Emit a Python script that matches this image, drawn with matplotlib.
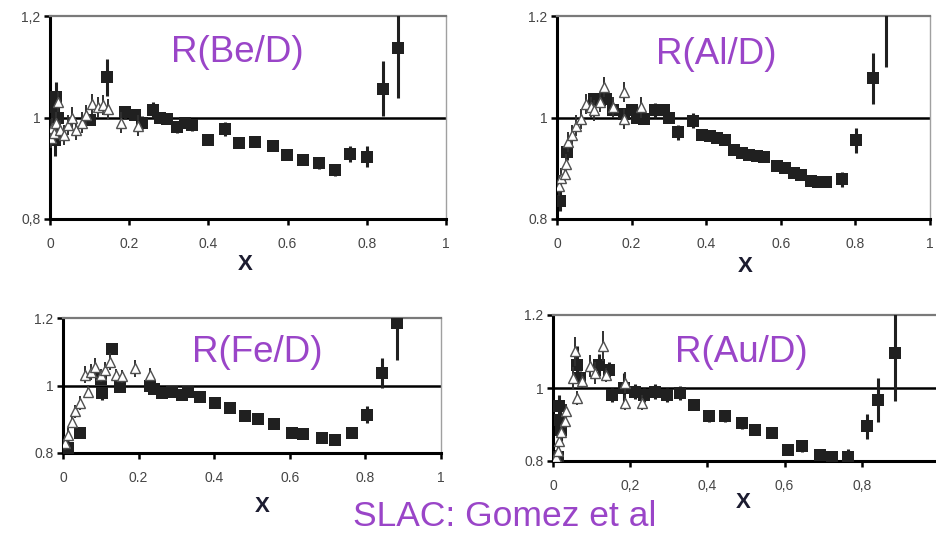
import matplotlib
matplotlib.use("Agg")
import matplotlib.pyplot as plt
import numpy as np

plt.rcParams['font.family'] = ['Liberation Sans', 'DejaVu Sans']

# ---------------- data ----------------
be_sq_x = [0.004, 0.008, 0.012, 0.016, 0.02, 0.10, 0.143, 0.19, 0.215, 0.232, 0.26, 0.278, 0.295, 0.32, 0.34,
           0.358, 0.40, 0.442, 0.477, 0.518, 0.562, 0.598, 0.64, 0.68, 0.72, 0.758, 0.80, 0.842, 0.88]
be_sq_y = [1.02, 0.985, 0.955, 1.04, 1.0, 0.995, 1.079, 1.01, 1.005, 0.99, 1.015, 1.0, 0.998, 0.982, 0.99,
           0.986, 0.955, 0.978, 0.95, 0.952, 0.944, 0.927, 0.916, 0.911, 0.896, 0.928, 0.923, 1.057, 1.136]
be_sq_err = [0.03, 0.03, 0.03, 0.03, 0.02, 0.01, 0.036, 0.012, 0.01, 0.012, 0.015, 0.01, 0.01, 0.012, 0.01,
             0.012, 0.008, 0.014, 0.01, 0.01, 0.01, 0.01, 0.01, 0.012, 0.012, 0.016, 0.02, 0.055, 0.098]
be_tri_x = [0.003, 0.006, 0.01, 0.015, 0.02, 0.025, 0.035, 0.045, 0.055, 0.065, 0.08, 0.09, 0.105, 0.12,
            0.135, 0.147, 0.18, 0.223]
be_tri_y = [0.96, 0.98, 0.97, 0.99, 1.03, 0.975, 0.965, 0.985, 1.0, 0.975, 0.99, 1.005, 1.027, 1.02,
            1.025, 1.017, 0.99, 0.984]
be_tri_err = [0.02, 0.02, 0.02, 0.02, 0.02, 0.02, 0.02, 0.02, 0.02, 0.02, 0.02, 0.02, 0.02, 0.02,
              0.02, 0.02, 0.02, 0.02]

al_sq_x = [0.008, 0.026, 0.10, 0.115, 0.131, 0.149, 0.18, 0.2, 0.215, 0.233, 0.264, 0.286, 0.30, 0.325, 0.365,
           0.39, 0.41, 0.43, 0.45, 0.475, 0.495, 0.515, 0.535, 0.555, 0.59, 0.61, 0.635, 0.655, 0.68, 0.70,
           0.72, 0.765, 0.801, 0.846, 0.881]
al_sq_y = [0.836, 0.932, 1.037, 1.035, 1.037, 1.014, 1.007, 1.014, 1.0, 0.997, 1.014, 1.014, 1.0, 0.971, 0.994,
           0.965, 0.963, 0.96, 0.955, 0.935, 0.93, 0.927, 0.925, 0.922, 0.905, 0.9, 0.89, 0.886, 0.874, 0.873,
           0.873, 0.878, 0.955, 1.077, 1.26]
al_sq_err = [0.02, 0.015, 0.01, 0.01, 0.01, 0.01, 0.012, 0.01, 0.01, 0.01, 0.014, 0.01, 0.01, 0.015, 0.015,
             0.008, 0.008, 0.008, 0.008, 0.008, 0.008, 0.008, 0.008, 0.008, 0.008, 0.008, 0.008, 0.008, 0.008,
             0.008, 0.008, 0.014, 0.025, 0.05, 0.16]
al_tri_x = [0.005, 0.012, 0.021, 0.025, 0.03, 0.039, 0.052, 0.065, 0.079, 0.09, 0.1, 0.115, 0.127, 0.149,
            0.18, 0.18, 0.224]
al_tri_y = [0.866, 0.88, 0.889, 0.909, 0.952, 0.965, 0.984, 0.997, 1.027, 1.02, 1.014, 1.03, 1.06, 1.02,
            1.05, 0.997, 1.02]
al_tri_err = [0.02, 0.02, 0.02, 0.02, 0.02, 0.02, 0.02, 0.02, 0.02, 0.02, 0.02, 0.02, 0.02, 0.02,
              0.02, 0.02, 0.02]

fe_sq_x = [0.004, 0.013, 0.044, 0.1, 0.102, 0.129, 0.151, 0.23, 0.24, 0.261, 0.288, 0.314, 0.332, 0.362,
           0.402, 0.442, 0.481, 0.517, 0.557, 0.605, 0.636, 0.685, 0.72, 0.764, 0.804, 0.844, 0.883]
fe_sq_y = [0.806, 0.816, 0.86, 1.018, 0.977, 1.107, 0.997, 1.0, 0.99, 0.977, 0.98, 0.972, 0.98, 0.967,
           0.948, 0.934, 0.909, 0.9, 0.885, 0.86, 0.855, 0.845, 0.84, 0.86, 0.914, 1.037, 1.185]
fe_sq_err = [0.02, 0.02, 0.015, 0.015, 0.02, 0.015, 0.01, 0.01, 0.01, 0.012, 0.01, 0.01, 0.01, 0.01,
             0.01, 0.01, 0.008, 0.008, 0.008, 0.008, 0.008, 0.008, 0.008, 0.01, 0.025, 0.045, 0.11]
fe_tri_x = [0.005, 0.014, 0.023, 0.032, 0.045, 0.058, 0.066, 0.075, 0.085, 0.1, 0.111, 0.125, 0.14,
            0.155, 0.19, 0.23]
fe_tri_y = [0.83, 0.854, 0.893, 0.923, 0.948, 1.032, 0.982, 1.04, 1.056, 1.03, 1.046, 1.07, 1.03,
            1.027, 1.051, 1.032]
fe_tri_err = [0.02, 0.02, 0.02, 0.02, 0.02, 0.025, 0.02, 0.025, 0.025, 0.02, 0.025, 0.025, 0.02,
              0.02, 0.025, 0.02]

au_sq_x = [0.012, 0.016, 0.019, 0.022, 0.062, 0.071, 0.118, 0.144, 0.153, 0.183, 0.213, 0.235, 0.265, 0.295,
           0.33, 0.364, 0.403, 0.446, 0.489, 0.524, 0.567, 0.61, 0.645, 0.692, 0.722, 0.765, 0.813, 0.843, 0.886]
au_sq_y = [0.81, 0.95, 0.912, 0.884, 1.064, 1.027, 1.064, 1.05, 0.981, 1.0, 0.99, 0.981, 0.99, 0.981,
           0.986, 0.954, 0.922, 0.922, 0.904, 0.886, 0.877, 0.831, 0.84, 0.817, 0.812, 0.812, 0.895, 0.968, 1.095]
au_sq_err = [0.02, 0.03, 0.03, 0.03, 0.05, 0.02, 0.03, 0.02, 0.02, 0.04, 0.02, 0.02, 0.02, 0.02,
             0.02, 0.015, 0.015, 0.015, 0.015, 0.015, 0.015, 0.012, 0.015, 0.015, 0.015, 0.02, 0.035, 0.06, 0.13]
au_tri_x = [0.008, 0.014, 0.015, 0.022, 0.031, 0.034, 0.053, 0.057, 0.061, 0.075, 0.095, 0.109, 0.13,
            0.137, 0.187, 0.187, 0.23]
au_tri_y = [0.81, 0.827, 0.855, 0.88, 0.91, 0.937, 1.028, 1.1, 0.973, 1.02, 1.06, 1.042, 1.115,
            1.036, 1.015, 0.96, 0.96]
au_tri_err = [0.02, 0.02, 0.02, 0.02, 0.02, 0.02, 0.03, 0.04, 0.02, 0.02, 0.03, 0.03, 0.04,
              0.02, 0.03, 0.02, 0.02]

titles = ["R(Be/D)", "R(Al/D)", "R(Fe/D)", "R(Au/D)"]
x_ticks = [0, 0.2, 0.4, 0.6, 0.8, 1.0]
y_ticks = [0.8, 1.0, 1.2]
xtick_labels_dot = ["0", "0.2", "0.4", "0.6", "0.8", "1"]
xtick_labels_comma = ["0", "0,2", "0,4", "0,6", "0,8", ""]
ytick_labels_dot = ["0.8", "1", "1.2"]
ytick_labels_comma = ["0,8", "1", "1,2"]
credit = "SLAC: Gomez et al"

# ---------------- figure ----------------
W, H = 936, 535
fig = plt.figure(figsize=(W / 100, H / 100), dpi=100)
fig.patch.set_facecolor('white')

def px_rect(l, r, t, b):
    return [l / W, 1 - b / H, (r - l) / W, (b - t) / H]

panels = [
    dict(rect=px_rect(50, 446, 16, 219), sq=(be_sq_x, be_sq_y, be_sq_err), tri=(be_tri_x, be_tri_y, be_tri_err),
         xl=xtick_labels_dot, yl=ytick_labels_comma, title_pos=(237, 53), xlab_pos=(245, 265)),
    dict(rect=px_rect(557, 930, 16, 219), sq=(al_sq_x, al_sq_y, al_sq_err), tri=(al_tri_x, al_tri_y, al_tri_err),
         xl=xtick_labels_dot, yl=ytick_labels_dot, title_pos=(716, 55), xlab_pos=(745, 267)),
    dict(rect=px_rect(63, 441, 318, 453), sq=(fe_sq_x, fe_sq_y, fe_sq_err), tri=(fe_tri_x, fe_tri_y, fe_tri_err),
         xl=xtick_labels_dot, yl=ytick_labels_dot, title_pos=(257, 352), xlab_pos=(262, 507)),
    dict(rect=px_rect(553, 939, 315, 461), sq=(au_sq_x, au_sq_y, au_sq_err), tri=(au_tri_x, au_tri_y, au_tri_err),
         xl=xtick_labels_comma, yl=ytick_labels_dot, title_pos=(741, 352), xlab_pos=(743, 503)),
]

purple = '#9a45c8'

for p, title in zip(panels, titles):
    ax = fig.add_axes(p['rect'])
    ax.set_xlim(0, 1)
    ax.set_ylim(0.8, 1.2)
    for s in ['left', 'bottom']:
        ax.spines[s].set_color('black')
        ax.spines[s].set_linewidth(2.2)
    ax.spines['top'].set_color('#7a7a7a')
    ax.spines['top'].set_linewidth(1.6)
    ax.spines['right'].set_color('#a0a0a0')
    ax.spines['right'].set_linewidth(1.0)
    ax.axhline(1.0, color='black', lw=1.8, zorder=1)

    ax.set_xticks(x_ticks)
    ax.set_xticklabels(p['xl'])
    ax.set_yticks(y_ticks)
    ax.set_yticklabels(p['yl'])
    ax.tick_params(axis='x', direction='out', length=4, width=1.8, pad=9,
                   labelsize=10, labelcolor='#454545', color='black')
    ax.tick_params(axis='y', direction='out', length=4, width=1.8, pad=3,
                   labelsize=10, labelcolor='#454545', color='black')

    sx, sy, se = p['sq']
    ax.errorbar(sx, sy, yerr=se, fmt='s', ms=8.5, mfc='#202020', mec='#202020', mew=0,
                ecolor='#202020', elinewidth=2.2, capsize=0, zorder=3)
    tx, ty, te = p['tri']
    ax.errorbar(tx, ty, yerr=te, fmt='^', ms=7, mfc='white', mec='#505050', mew=1.0,
                ecolor='#303030', elinewidth=1.4, capsize=0, zorder=4)

    fig.text(p['title_pos'][0] / W, 1 - p['title_pos'][1] / H, title, color=purple,
             fontsize=26.5, ha='center', va='center')
    fig.text(p['xlab_pos'][0] / W, 1 - p['xlab_pos'][1] / H, 'X', color='#1c1c30',
             fontsize=16, fontweight='bold', ha='center', va='center')

fig.text(505 / W, 1 - 526 / H, credit, color=purple, fontsize=25.5, ha='center', va='baseline')

fig.savefig('out.png', dpi=100)
